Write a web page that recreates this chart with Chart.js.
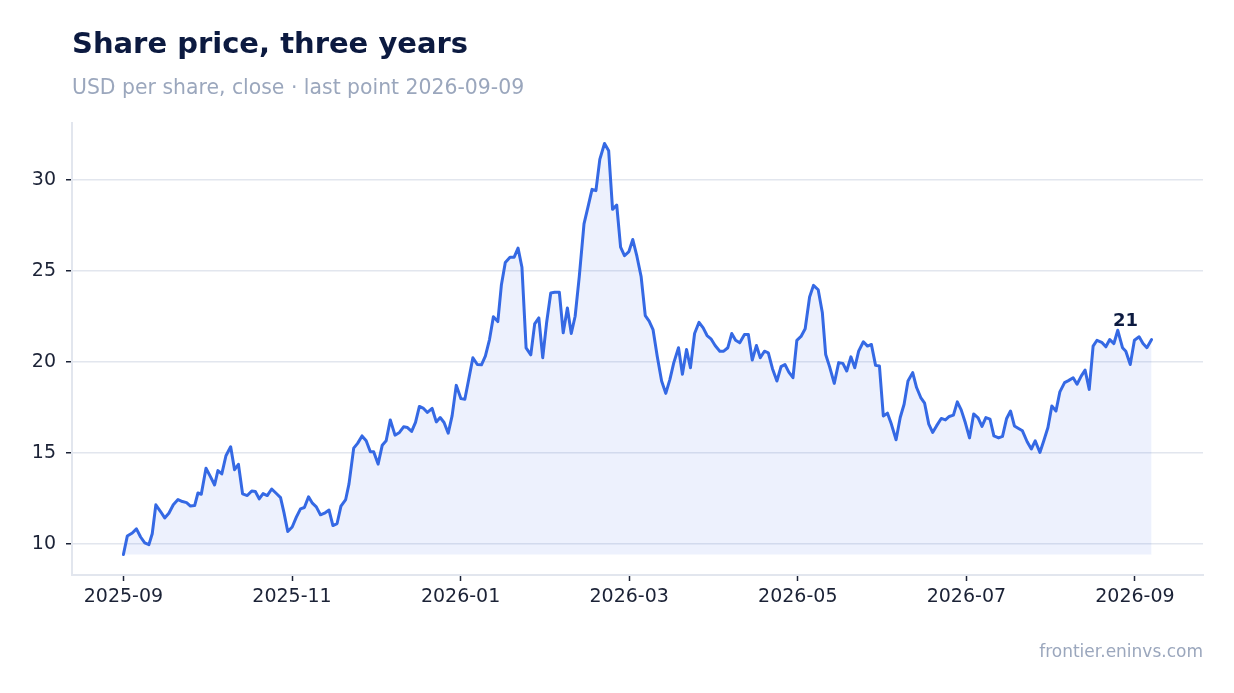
<!DOCTYPE html>
<html>
<head>
<meta charset="utf-8">
<script src="https://cdn.jsdelivr.net/npm/chart.js@4.4.1/dist/chart.umd.min.js"></script>
<style>
  html, body { margin: 0; padding: 0; background: #ffffff; }
  #wrap { position: relative; width: 1234px; height: 693px; overflow: hidden; }
  canvas { position: absolute; left: 0; top: 0; }
  .txt { position: absolute; font-family: "DejaVu Sans", sans-serif; line-height: 1; white-space: nowrap; }
  #title { left: 72px; top: 29px; font-size: 29px; font-weight: bold; color: #0c1a40; }
  #subtitle { left: 72px; top: 77px; font-size: 20.4px; color: #9ba7bd; }
  #footer { right: 31px; top: 643px; font-size: 17px; color: #9ba7bd; }
</style>
</head>
<body>
<div id="wrap">
  <canvas id="c" width="1234" height="693"></canvas>
  <div class="txt" id="title">Share price, three years</div>
  <div class="txt" id="subtitle">USD per share, close · last point 2026-09-09</div>
  <div class="txt" id="footer">frontier.eninvs.com</div>
</div>
<script>
// ---- data ----
// day offsets from the start month (2025-09), on an axis where every month has equal width
const startMonth = '2025-09';
const dayOffsets = [
  0, 1.4, 3.2, 4.7, 6.2, 7.7, 9.2, 10.4, 11.7, 13.4, 14.9, 16.4, 18.0, 19.7, 21.3, 22.8, 24.2, 25.7, 26.9, 28.1,
  29.8, 31.4, 32.9, 34.1, 35.5, 37.0, 38.7, 40.1, 41.5, 43.0, 44.7, 46.3, 47.6, 49.0, 50.4, 51.9, 53.5, 55.2, 56.7, 57.9,
  59.3, 60.9, 62.4, 63.9, 65.3, 66.8, 68.2, 69.6, 71.1, 72.8, 74.2, 75.6, 77.1, 78.5, 80.2, 81.4, 83.1, 84.5, 86.1, 87.6,
  89.1, 90.3, 91.9, 93.4, 94.8, 96.3, 98.0, 99.6, 101.1, 102.5, 104.0, 105.4, 106.8, 108.3, 109.7, 111.4, 112.9, 114.3, 115.7, 117.2,
  118.6, 120.1, 121.8, 123.2, 124.6, 126.1, 127.7, 129.2, 130.6, 132.1, 133.5, 135.1, 136.4, 137.8, 139.5, 141.0, 142.4, 143.8, 145.3, 147.0,
  148.4, 149.9, 151.3, 152.7, 154.2, 155.6, 157.3, 158.7, 160.2, 161.6, 163.0, 164.5, 166.2, 167.6, 169.1, 170.5, 171.9, 173.6, 175.1, 176.5,
  178.0, 179.4, 180.8, 182.4, 183.8, 185.3, 186.8, 188.3, 189.7, 191.1, 192.6, 194.2, 195.7, 197.2, 198.6, 200.3, 201.7, 203.2, 204.6, 206.1,
  207.7, 209.2, 210.6, 212.0, 213.5, 215.2, 216.6, 218.1, 219.5, 220.9, 222.4, 224.1, 225.5, 226.9, 228.4, 229.8, 231.3, 232.7, 234.2, 235.8,
  237.3, 238.7, 240.1, 241.6, 243.0, 244.5, 246.0, 247.6, 249.0, 250.7, 252.2, 253.4, 254.8, 256.5, 258.1, 259.6, 261.0, 262.5, 263.9, 265.3,
  267.0, 268.5, 269.9, 271.4, 272.8, 274.2, 275.7, 277.1, 278.8, 280.3, 281.7, 283.1, 284.8, 286.2, 287.7, 289.1, 290.6, 292.0, 293.4, 295.1,
  296.6, 298.0, 299.5, 300.9, 302.3, 303.8, 305.3, 306.8, 308.4, 309.8, 311.2, 312.7, 314.1, 315.8, 317.2, 318.7, 320.1, 321.5, 323.0, 324.4,
  326.1, 327.6, 329.0, 330.7, 332.1, 333.6, 335.0, 336.5, 337.9, 339.6, 341.0, 342.7, 344.1, 345.6, 347.0, 348.5, 349.9, 351.3, 353.0, 354.5,
  355.9, 357.4, 358.8, 360.5, 361.7, 363.3, 364.8, 366.5, 367.9, 369.3, 371.0
];
const closePrices = [
  9.41, 10.42, 10.59, 10.82, 10.37, 10.05, 9.95, 10.55, 12.14, 11.77, 11.42, 11.68, 12.14, 12.43, 12.32, 12.26, 12.07, 12.10, 12.79, 12.72,
  14.15, 13.69, 13.23, 14.02, 13.84, 14.84, 15.33, 14.07, 14.37, 12.74, 12.65, 12.90, 12.87, 12.47, 12.76, 12.65, 13.01, 12.76, 12.54, 11.74,
  10.67, 10.92, 11.46, 11.92, 11.99, 12.58, 12.23, 12.03, 11.59, 11.70, 11.85, 11.00, 11.11, 12.07, 12.43, 13.29, 15.26, 15.52, 15.93, 15.66,
  15.06, 15.06, 14.38, 15.42, 15.66, 16.81, 15.97, 16.12, 16.43, 16.39, 16.18, 16.67, 17.55, 17.44, 17.22, 17.44, 16.70, 16.94, 16.67, 16.08,
  17.03, 18.71, 17.98, 17.95, 19.04, 20.23, 19.86, 19.84, 20.32, 21.23, 22.48, 22.22, 24.25, 25.47, 25.76, 25.76, 26.26, 25.21, 20.77, 20.39,
  22.09, 22.42, 20.23, 22.15, 23.79, 23.83, 23.83, 21.60, 22.97, 21.56, 22.51, 24.70, 27.59, 28.50, 29.49, 29.42, 31.14, 32.01, 31.61, 28.39,
  28.63, 26.31, 25.84, 26.07, 26.73, 25.80, 24.70, 22.55, 22.24, 21.78, 20.32, 18.95, 18.27, 19.04, 19.96, 20.78, 19.32, 20.68, 19.68, 21.56,
  22.18, 21.87, 21.45, 21.27, 20.90, 20.59, 20.59, 20.78, 21.56, 21.19, 21.05, 21.51, 21.51, 20.10, 20.90, 20.23, 20.59, 20.50, 19.63, 18.95,
  19.74, 19.86, 19.44, 19.13, 21.19, 21.40, 21.82, 23.57, 24.21, 23.97, 22.70, 20.41, 19.74, 18.82, 19.96, 19.92, 19.50, 20.28, 19.68, 20.59,
  21.11, 20.87, 20.96, 19.81, 19.77, 17.03, 17.18, 16.58, 15.72, 16.94, 17.67, 18.95, 19.41, 18.59, 18.04, 17.73, 16.58, 16.12, 16.48, 16.89,
  16.81, 17.00, 17.07, 17.80, 17.36, 16.65, 15.82, 17.14, 16.92, 16.45, 16.94, 16.85, 15.93, 15.82, 15.90, 16.89, 17.30, 16.48, 16.34, 16.21,
  15.61, 15.21, 15.66, 15.02, 15.66, 16.39, 17.58, 17.30, 18.35, 18.86, 18.97, 19.13, 18.77, 19.22, 19.55, 18.49, 20.87, 21.19, 21.08, 20.83,
  21.23, 21.01, 21.74, 20.78, 20.59, 19.86, 21.19, 21.38, 21.01, 20.78, 21.23
];
const monthTicks = ['2025-09', '2025-11', '2026-01', '2026-03', '2026-05', '2026-07', '2026-09'];
const priceTicks = [10, 15, 20, 25, 30];

// ---- build (x in months since start month, equal-width months) ----
const DAYS_PER_MONTH = 365 / 12;
const [y0, m0] = startMonth.split('-').map(Number);
const monthPos = s => { const [y, m] = s.split('-').map(Number); return (y - y0) * 12 + (m - m0); };
const points = dayOffsets.map((d, i) => ({ x: d / DAYS_PER_MONTH, y: closePrices[i] }));
const xs = points.map(p => p.x);
const xMinD = Math.min(...xs), xMaxD = Math.max(...xs);
const yMinD = Math.min(...closePrices), yMaxD = Math.max(...closePrices);
const xPad = (xMaxD - xMinD) * 0.05, yPad = (yMaxD - yMinD) * 0.05;
const tickLabelByPos = {};
monthTicks.forEach(m => { tickLabelByPos[monthPos(m)] = m; });

const FONT = '"DejaVu Sans", sans-serif';
const LINE = '#3569e4';
const GRID = '#e2e6ee';
const TICK = '#1b2236';

const lastLabel = {
  id: 'lastLabel',
  afterDatasetsDraw(chart) {
    const meta = chart.getDatasetMeta(0);
    const el = meta.data[meta.data.length - 1];
    const v = closePrices[closePrices.length - 1];
    const ctx = chart.ctx;
    ctx.save();
    ctx.font = 'bold 18px ' + FONT;
    ctx.fillStyle = '#0c1a40';
    ctx.textAlign = 'center';
    ctx.textBaseline = 'alphabetic';
    ctx.fillText(String(Math.round(v)), el.x - 26, el.y - 14);
    ctx.restore();
  }
};

new Chart(document.getElementById('c'), {
  type: 'line',
  data: {
    datasets: [{
      data: points,
      borderColor: LINE,
      borderWidth: 3,
      backgroundColor: 'rgba(53,105,228,0.09)',
      fill: { value: yMinD },
      pointRadius: 0,
      tension: 0,
      borderJoinStyle: 'round',
      borderCapStyle: 'round'
    }]
  },
  plugins: [lastLabel],
  options: {
    responsive: false,
    animation: false,
    layout: { padding: { top: 123, right: 31, left: 0, bottom: 0 } },
    plugins: { legend: { display: false }, tooltip: { enabled: false } },
    scales: {
      x: {
        type: 'linear',
        min: xMinD - xPad,
        max: xMaxD + xPad,
        afterFit(s) { s.height = 118; },
        afterBuildTicks(s) { s.ticks = monthTicks.map(m => ({ value: monthPos(m) })); },
        ticks: {
          autoSkip: false, maxRotation: 0,
          padding: 5,
          color: TICK,
          font: { family: FONT, size: 19 },
          callback(v) { return tickLabelByPos[v] || ''; }
        },
        grid: { drawOnChartArea: false, drawTicks: true, tickLength: 6, tickColor: TICK, tickWidth: 1.5 },
        border: { display: true, color: GRID, width: 2 }
      },
      y: {
        min: yMinD - yPad,
        max: yMaxD + yPad,
        afterFit(s) { s.width = 72; },
        afterBuildTicks(s) { s.ticks = priceTicks.map(v => ({ value: v })); },
        ticks: {
          padding: 10,
          color: TICK,
          font: { family: FONT, size: 19 }
        },
        grid: { color: GRID, lineWidth: 1.5, tickLength: 6, tickColor: TICK, tickWidth: 1.5 },
        border: { display: true, color: GRID, width: 2 }
      }
    }
  }
});
</script>
</body>
</html>
